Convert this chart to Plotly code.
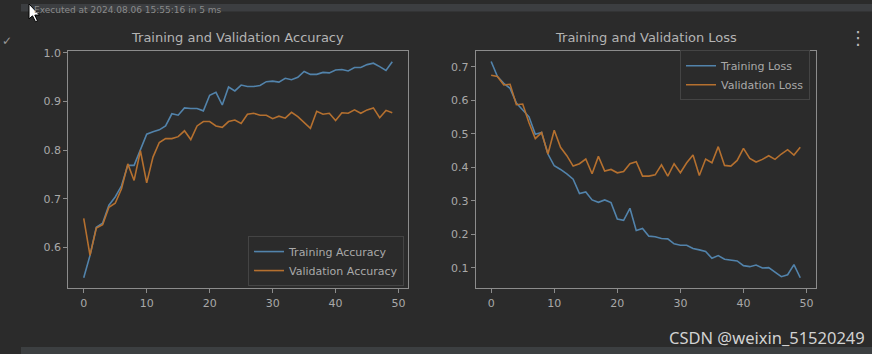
import plotly.graph_objects as go

epochs = list(range(50))

train_acc = [0.538, 0.584, 0.642, 0.650, 0.687, 0.704, 0.727, 0.769, 0.769, 0.802,
             0.833, 0.838, 0.842, 0.850, 0.875, 0.872, 0.887, 0.886, 0.886, 0.881,
             0.913, 0.919, 0.893, 0.930, 0.922, 0.934, 0.931, 0.931, 0.933, 0.941,
             0.942, 0.940, 0.948, 0.945, 0.950, 0.962, 0.956, 0.956, 0.960, 0.959,
             0.965, 0.966, 0.963, 0.970, 0.970, 0.976, 0.979, 0.972, 0.964, 0.982]
val_acc = [0.660, 0.584, 0.640, 0.647, 0.683, 0.691, 0.721, 0.772, 0.738, 0.799,
           0.733, 0.786, 0.816, 0.824, 0.824, 0.828, 0.840, 0.822, 0.850, 0.859,
           0.859, 0.850, 0.847, 0.859, 0.862, 0.855, 0.874, 0.876, 0.872, 0.872,
           0.865, 0.870, 0.866, 0.878, 0.869, 0.857, 0.845, 0.880, 0.874, 0.876,
           0.861, 0.877, 0.876, 0.883, 0.876, 0.883, 0.887, 0.867, 0.882, 0.877]
train_loss = [0.716, 0.671, 0.651, 0.636, 0.592, 0.572, 0.551, 0.499, 0.504, 0.440,
              0.405, 0.394, 0.381, 0.365, 0.322, 0.327, 0.303, 0.296, 0.303, 0.295,
              0.246, 0.242, 0.278, 0.212, 0.218, 0.195, 0.193, 0.188, 0.187, 0.172,
              0.168, 0.168, 0.158, 0.154, 0.149, 0.129, 0.137, 0.126, 0.123, 0.121,
              0.107, 0.104, 0.109, 0.100, 0.101, 0.087, 0.074, 0.080, 0.110, 0.071]
val_loss = [0.675, 0.671, 0.646, 0.648, 0.587, 0.589, 0.533, 0.486, 0.504, 0.440,
            0.511, 0.460, 0.435, 0.404, 0.411, 0.425, 0.381, 0.433, 0.389, 0.394,
            0.384, 0.388, 0.411, 0.417, 0.374, 0.374, 0.378, 0.408, 0.374, 0.411,
            0.384, 0.414, 0.437, 0.376, 0.425, 0.414, 0.462, 0.406, 0.404, 0.421,
            0.457, 0.427, 0.416, 0.424, 0.435, 0.424, 0.440, 0.453, 0.437, 0.460]

acc_ticks = [0.6, 0.7, 0.8, 0.9, 1.0]
loss_ticks = [0.1, 0.2, 0.3, 0.4, 0.5, 0.6, 0.7]
x_ticks = [0, 10, 20, 30, 40, 50]

W, H = 872, 354
BG = "#2b2b2b"
BLUE = "#5283ab"
ORANGE = "#b5702f"
TXT = "#a9a9a9"
SPINE = "#8c8c8c"
FONT = "DejaVu Sans"

def px_x(p):
    return p / W

def px_y(p):
    return 1 - p / H

fig = go.Figure()
fig.add_trace(go.Scatter(x=epochs, y=train_acc, mode="lines", name="Training Accuracy",
                         line=dict(color=BLUE, width=1.6), xaxis="x", yaxis="y", legend="legend"))
fig.add_trace(go.Scatter(x=epochs, y=val_acc, mode="lines", name="Validation Accuracy",
                         line=dict(color=ORANGE, width=1.6), xaxis="x", yaxis="y", legend="legend"))
fig.add_trace(go.Scatter(x=epochs, y=train_loss, mode="lines", name="Training Loss",
                         line=dict(color=BLUE, width=1.6), xaxis="x2", yaxis="y2", legend="legend2"))
fig.add_trace(go.Scatter(x=epochs, y=val_loss, mode="lines", name="Validation Loss",
                         line=dict(color=ORANGE, width=1.6), xaxis="x2", yaxis="y2", legend="legend2"))

ydom = [px_y(287.7), px_y(47.3)]
axis_common = dict(showline=True, linecolor=SPINE, linewidth=1, mirror=True, showgrid=False,
                   zeroline=False, ticks="outside", ticklen=4, tickcolor=SPINE, tickwidth=1,
                   tickfont=dict(family=FONT, size=11, color=TXT), fixedrange=True)

fig.update_layout(
    width=W, height=H,
    margin=dict(l=0, r=0, t=0, b=0),
    paper_bgcolor=BG, plot_bgcolor=BG,
    font=dict(family=FONT, color=TXT),
    xaxis=dict(domain=[px_x(68.3), px_x(407.7)], range=[-2.45, 51.45], tickvals=x_ticks,
               anchor="y", **axis_common),
    yaxis=dict(domain=ydom, range=[0.516, 1.0045], tickvals=acc_ticks, tickformat=".1f",
               anchor="x", **axis_common),
    xaxis2=dict(domain=[px_x(475.7), px_x(815.7)], range=[-2.45, 51.45], tickvals=x_ticks,
                anchor="y2", **axis_common),
    yaxis2=dict(domain=ydom, range=[0.039, 0.748], tickvals=loss_ticks, tickformat=".1f",
                anchor="x2", **axis_common),
    legend=dict(x=px_x(404), y=px_y(260), xanchor="right", yanchor="middle",
                bgcolor=BG, bordercolor="#444444", borderwidth=1,
                font=dict(family=FONT, size=11, color=TXT), tracegroupgap=0, itemwidth=30),
    legend2=dict(x=px_x(810), y=px_y(72), xanchor="right", yanchor="middle",
                 bgcolor=BG, bordercolor="#444444", borderwidth=1,
                 font=dict(family=FONT, size=11, color=TXT), tracegroupgap=0, itemwidth=30),
    showlegend=True,
)

annotations = [
    dict(text="Training and Validation Accuracy", x=px_x(238), y=px_y(34), xref="paper", yref="paper",
         xanchor="center", yanchor="middle", showarrow=False,
         font=dict(family=FONT, size=13, color="#b4b4b4")),
    dict(text="Training and Validation Loss", x=px_x(645.7), y=px_y(34), xref="paper", yref="paper",
         xanchor="center", yanchor="middle", showarrow=False,
         font=dict(family=FONT, size=13, color="#b4b4b4")),
    dict(text="CSDN @weixin_51520249", x=px_x(867), y=px_y(337), xref="paper", yref="paper",
         xanchor="right", yanchor="middle", showarrow=False,
         font=dict(family="Noto Sans, DejaVu Sans", size=16.5, color="#d2d2d2")),
    dict(text="Executed at 2024.08.06 15:55:16 in 5 ms", x=px_x(33), y=1, xref="paper", yref="paper",
         xanchor="left", yanchor="top", showarrow=False, borderpad=0,
         font=dict(family=FONT, size=9, color="#8a8a8a")),
    dict(text="✓", x=px_x(1), y=px_y(37), xref="paper", yref="paper",
         xanchor="left", yanchor="middle", showarrow=False, borderpad=0,
         font=dict(family=FONT, size=12, color="#9a9a9a")),
    dict(text="⋮", x=px_x(858), y=px_y(34), xref="paper", yref="paper",
         xanchor="center", yanchor="middle", showarrow=False,
         font=dict(family=FONT, size=18, color="#bbbbbb")),
]
fig.update_layout(annotations=annotations)

shapes = [
    dict(type="rect", xref="paper", yref="paper", x0=px_x(21), x1=1, y0=px_y(7.5), y1=1,
         fillcolor="#3c3e41", line=dict(width=0), layer="below"),
    dict(type="rect", xref="paper", yref="paper", x0=px_x(21), x1=1, y0=0, y1=px_y(347),
         fillcolor="#3c3f41", line=dict(width=0), layer="below"),
    dict(type="path", xref="paper", yref="paper",
         path=(f"M {px_x(29)} {px_y(0)} L {px_x(29)} {px_y(15)} L {px_x(32.5)} {px_y(12)} "
               f"L {px_x(35.5)} {px_y(18)} L {px_x(37.5)} {px_y(17)} L {px_x(34.8)} {px_y(11.2)} "
               f"L {px_x(39.5)} {px_y(11.2)} Z"),
         fillcolor="#ffffff", line=dict(color="#000000", width=1), layer="above"),
]
fig.update_layout(shapes=shapes)

fig.write_html("out.html")
